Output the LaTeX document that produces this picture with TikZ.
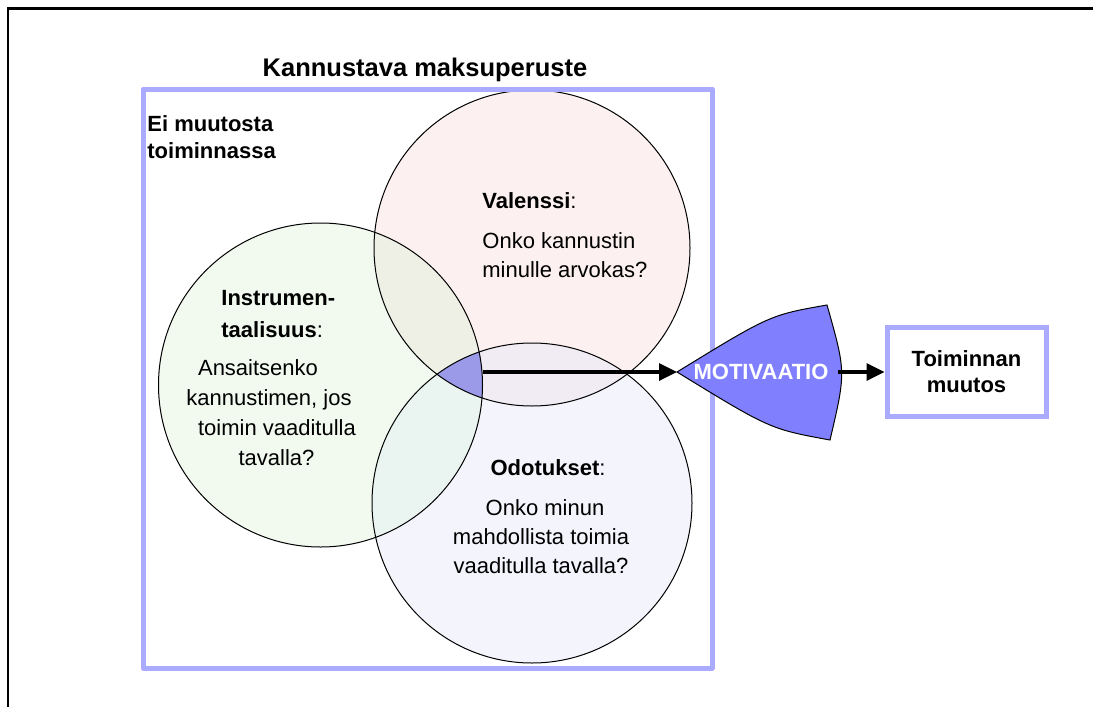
\documentclass[tikz,border=0pt]{standalone}
\usepackage{fontspec}
\setmainfont{Liberation Sans}
\usetikzlibrary{arrows.meta,positioning,calc}

\definecolor{framelav}{RGB}{170,170,255}
\definecolor{motivblue}{RGB}{128,128,255}
\definecolor{valpink}{RGB}{252,240,240}
\definecolor{instgreen}{RGB}{242,250,240}
\definecolor{odolav}{RGB}{244,244,252}
\definecolor{valinst}{RGB}{238,240,230}
\definecolor{valodo}{RGB}{241,236,244}
\definecolor{instodo}{RGB}{234,244,240}
\definecolor{coreblue}{RGB}{154,154,232}

\begin{document}
\begin{tikzpicture}[x=0.5pt,y=-0.5pt,
  txt/.style={inner sep=0pt, font=\fontsize{11}{14.5}\selectfont},
  arr/.style={-{Triangle[length=9pt,width=8.5pt]}, line width=1.7pt}]
\useasboundingbox (0,0) rectangle (1093,707);
% page edge
\draw[line width=1.3pt] (8,707) -- (8,8.5) -- (1093,8.5);
% circle centres
\coordinate (val) at (532,248);
\coordinate (inst) at (320.5,385);
\coordinate (odo) at (532,503);
% fills
\fill[valpink] (val) circle (158);
\fill[instgreen] (inst) circle (162);
\fill[odolav] (odo) circle (160);
\begin{scope}
\clip (val) circle (158);
\fill[valinst] (inst) circle (162);
\fill[valodo] (odo) circle (160);
\end{scope}
\begin{scope}
\clip (inst) circle (162);
\fill[instodo] (odo) circle (160);
\end{scope}
\begin{scope}
\clip (val) circle (158);
\clip (inst) circle (162);
\fill[coreblue] (odo) circle (160);
\end{scope}
% outlines
\draw[line width=0.5pt] (val) circle (158);
\draw[line width=0.5pt] (inst) circle (162);
\draw[line width=0.5pt] (odo) circle (160);
% frame
\draw[framelav, line width=2.5pt, line join=round] (143,89) rectangle (712,668);
\node[txt, font=\fontsize{12.75}{15}\selectfont\bfseries, anchor=base] (title) at (425,76) {Kannustava maksuperuste};
\node[txt, font=\fontsize{11}{13.5}\selectfont\bfseries, align=left, anchor=base west] (nochange) at (147,158) {Ei muutosta\\toiminnassa};
% circle texts
\node[txt, anchor=base west] (valhead) at (482,208) {\textbf{Valenssi}:};
\node[txt, align=left, anchor=base west] (valtext) at (482,277) {Onko kannustin\\minulle arvokas?};
\node[txt, font=\fontsize{11}{16}\selectfont, align=left, anchor=base west] (insthead) at (221,337) {\textbf{Instrumen-}\\\textbf{taalisuus}:};
\node[txt, font=\fontsize{11}{15}\selectfont, align=center, anchor=base] (insttext) at (269,465)
  {Ansaitsenko\hspace*{11pt}\\kannustimen, jos\\\hspace*{8pt}toimin vaaditulla\\\hspace*{7.5pt}tavalla?};
\node[txt, anchor=base] (odohead) at (548,475) {\textbf{Odotukset}:};
\node[txt, align=center, anchor=base] (odotext) at (541,573)
  {\hspace*{4pt}Onko minun\\mahdollista toimia\\vaaditulla tavalla?};
% motivation wedge
\coordinate (core) at (483,372);
\coordinate (mtip) at (677,372);
\coordinate (mend) at (838,372);
\draw[fill=motivblue, line width=0.5pt] (mtip) .. controls (770,315) .. (827,305)
  .. controls (846,372) .. (830,440) .. controls (770,429) .. (mtip) -- cycle;
\node[txt, font=\fontsize{11}{13}\selectfont\bfseries, text=white] (motiv) at (761,372) {MOTIVAATIO};
\node[draw=framelav, line width=2.5pt, minimum width=79.5pt, minimum height=44.5pt,
  align=center, inner sep=0pt, font=\fontsize{11}{13}\selectfont\bfseries] (muutos) at (966.5,372) {Toiminnan\\muutos};
% arrows
\draw[arr] (core) -- (mtip);
\draw[arr] (mend) -- (muutos.west);
\end{tikzpicture}
\end{document}
